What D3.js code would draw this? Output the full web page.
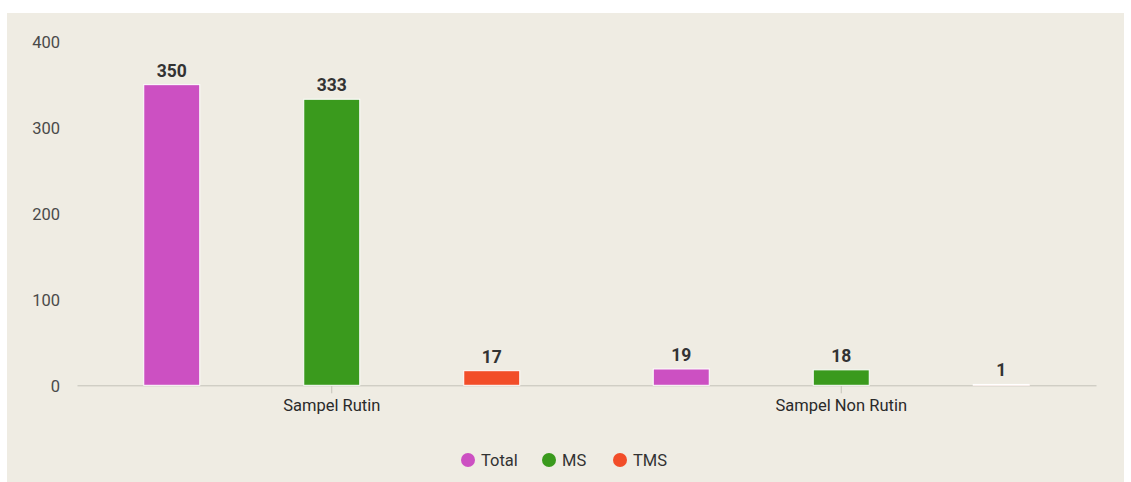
<!DOCTYPE html>
<html>
<head>
<meta charset="utf-8">
<script src="https://cdn.jsdelivr.net/npm/d3@7"></script>
<style>
  html, body { margin: 0; padding: 0; background: #ffffff; }
  svg { display: block; }
</style>
</head>
<body>
<svg id="chart" width="1131" height="482"></svg>
<script>
const categories = ["Sampel Rutin", "Sampel Non Rutin"];
const seriesNames = ["Total", "MS", "TMS"];
const totalValues = [350, 19];
const msValues = [333, 18];
const tmsValues = [17, 1];
const seriesColors = ["#cc50c2", "#3a9a1d", "#f24d29"];
const yTicks = [0, 100, 200, 300, 400];

const seriesValues = [totalValues, msValues, tmsValues];

const svg = d3.select("#chart");

// panel background
svg.append("rect").attr("x", 7).attr("y", 13).attr("width", 1117).attr("height", 469).attr("fill", "#efece3");

const plotL = 77, plotR = 1096, plotT = 41.7, plotB = 385.3;

const x0 = d3.scaleBand().domain(categories).range([plotL, plotR]).paddingInner(0).paddingOuter(0);
const groupPad = 14.75;
const x1 = d3.scaleBand().domain(seriesNames).range([groupPad, x0.bandwidth() - groupPad]).paddingInner(0).paddingOuter(0);
const barW = 56;
const y = d3.scaleLinear().domain([0, 400]).range([plotB, plotT]);

// y axis labels
const yAxis = d3.axisLeft(y).tickValues(yTicks).tickSize(0).tickPadding(0);
const gy = svg.append("g").attr("transform", `translate(60,0)`).call(yAxis);
gy.select(".domain").remove();
gy.selectAll("text")
  .attr("font-family", "Roboto, sans-serif")
  .attr("font-size", 16.5)
  .attr("font-weight", 400)
  .attr("fill", "#4a4a4a")
  .attr("dy", "0.35em");

// x axis
const xAxis = d3.axisBottom(x0).tickSizeInner(8).tickSizeOuter(0).tickPadding(6);
const gx = svg.append("g").attr("transform", `translate(0,${plotB})`).call(xAxis);
gx.select(".domain").attr("stroke", "#c4c2b8").attr("stroke-width", 1);
gx.selectAll(".tick line").attr("stroke", "#c4c2b8");
gx.selectAll("text")
  .attr("font-family", "Roboto, sans-serif")
  .attr("font-size", 16.5)
  .attr("fill", "#2a2a2a");

// bars
const data = [];
categories.forEach((c, ci) => {
  seriesNames.forEach((s, si) => {
    data.push({ cat: c, series: s, value: seriesValues[si][ci], color: seriesColors[si] });
  });
});

const barX = d => x0(d.cat) + x1(d.series) + x1.bandwidth() / 2 - barW / 2;

svg.append("g").selectAll("rect").data(data).enter().append("rect")
  .attr("x", barX)
  .attr("y", d => y(d.value))
  .attr("width", barW)
  .attr("height", d => y(0) - y(d.value))
  .attr("fill", d => d.color)
  .attr("stroke", "#ffffff")
  .attr("stroke-width", 1);

svg.append("g").selectAll("text").data(data).enter().append("text")
  .attr("x", d => barX(d) + barW / 2)
  .attr("y", d => y(d.value) - 8)
  .attr("text-anchor", "middle")
  .attr("font-family", "Roboto, sans-serif")
  .attr("font-weight", 700)
  .attr("font-size", 17.5)
  .attr("fill", "#333")
  .text(d => d.value);

// legend
const legendX = [468, 549, 620];
const lg = svg.append("g");
seriesNames.forEach((s, i) => {
  lg.append("circle").attr("cx", legendX[i]).attr("cy", 460).attr("r", 7).attr("fill", seriesColors[i]);
  lg.append("text").attr("x", legendX[i] + 13).attr("y", 460).attr("dy", "0.35em")
    .attr("font-family", "Roboto, sans-serif").attr("font-size", 16.5).attr("fill", "#333").text(s);
});
</script>
</body>
</html>
